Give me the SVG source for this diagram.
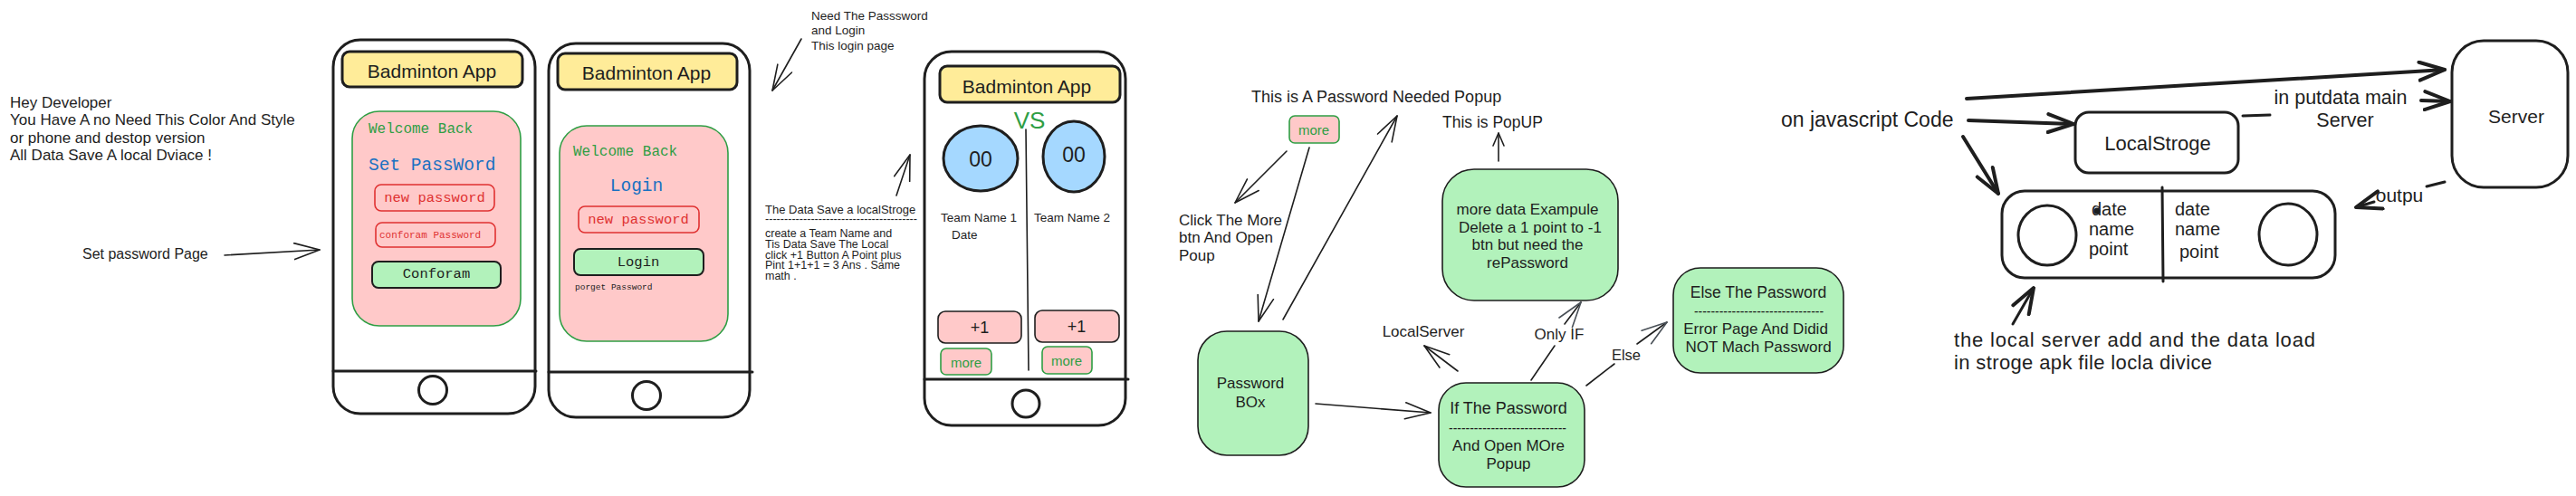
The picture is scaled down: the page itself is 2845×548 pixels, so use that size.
<svg xmlns="http://www.w3.org/2000/svg" width="2845" height="548" viewBox="0 0 2845 548">
<defs>
<style>
.ln{stroke:#1e1e1e;fill:none;stroke-linecap:round;stroke-linejoin:round}
.c{stroke-width:1.6}
.b{stroke-width:4}
.ph{fill:#ffffff;stroke:#1e1e1e;stroke-width:3}
.hdr{fill:#ffec99;stroke:#1e1e1e;stroke-width:3}
.panel{fill:#ffc9c9;stroke:#2f9e44;stroke-width:1.6}
.redbox{fill:#ffc9c9;stroke:#e03131;stroke-width:1.6}
.gbtn{fill:#b2f2bb;stroke:#1e1e1e;stroke-width:2}
.pbtn{fill:#ffc9c9;stroke:#1e1e1e;stroke-width:1.6}
.mbtn{fill:#ffc9c9;stroke:#2f9e44;stroke-width:1.6}
.gnode{fill:#b2f2bb;stroke:#1e1e1e;stroke-width:1.6}
.wnode{fill:#ffffff;stroke:#1e1e1e;stroke-width:3}
.t{font-family:"Liberation Sans",Arial,sans-serif;fill:#1e1e1e}
.m{font-family:"Liberation Mono","DejaVu Sans Mono",monospace}
.mid{text-anchor:middle;dominant-baseline:central}
.st{dominant-baseline:central}
.grn{fill:#2f9e44}
.blu{fill:#1971c2}
.red{fill:#e03131}
</style>
<marker id="ah" viewBox="0 0 30 20" refX="29" refY="10" markerWidth="30" markerHeight="20" markerUnits="userSpaceOnUse" orient="auto">
<path d="M1,1 L29,10 L1,19" fill="none" stroke="#1e1e1e" stroke-width="1.6" stroke-linecap="round" stroke-linejoin="round"/>
</marker>
<marker id="ahg" viewBox="0 0 30 20" refX="29" refY="10" markerWidth="30" markerHeight="20" markerUnits="userSpaceOnUse" orient="auto">
<path d="M1,1 L29,10 L1,19" fill="none" stroke="#495057" stroke-width="1.6" stroke-linecap="round" stroke-linejoin="round"/>
</marker>
<marker id="ahs" viewBox="0 0 16 14" refX="15" refY="7" markerWidth="16" markerHeight="14" markerUnits="userSpaceOnUse" orient="auto">
<path d="M1,1 L15,7 L1,13" fill="none" stroke="#1e1e1e" stroke-width="1.6" stroke-linecap="round" stroke-linejoin="round"/>
</marker>
<marker id="ahb" viewBox="0 0 32 24" refX="30" refY="12" markerWidth="32" markerHeight="24" markerUnits="userSpaceOnUse" orient="auto">
<path d="M2,2 L30,12 L2,22" fill="none" stroke="#1e1e1e" stroke-width="4" stroke-linecap="round" stroke-linejoin="round"/>
</marker>
</defs>

<rect width="2845" height="548" fill="#ffffff"/>

<!-- notes -->
<g id="note-developer" class="t" font-size="17">
<text x="11" y="113" class="st">Hey Developer</text>
<text x="11" y="132" class="st">You Have A no Need This Color And Style</text>
<text x="11" y="152" class="st">or phone and destop version</text>
<text x="11" y="171" class="st">All Data Save A local Dviace !</text>
</g>
<g id="label-setpassword"><text class="t st" x="91" y="280" font-size="16">Set password Page</text></g>
<g id="label-needpassword" class="t" font-size="13.5">
<text x="896" y="17" class="st">Need The Passsword</text>
<text x="896" y="33" class="st">and Login</text>
<text x="896" y="50" class="st">This login page</text>
</g>
<g id="label-datasave" class="t" font-size="12.5">
<text x="845" y="231" class="st" font-size="13">The Data Save a localStroge</text>
<text x="845" y="242" class="st" textLength="168" lengthAdjust="spacingAndGlyphs">----------------------------------------</text>
<text x="845" y="258" class="st">create a Team Name and</text>
<text x="845" y="270" class="st">Tis Data Save The Local</text>
<text x="845" y="282" class="st">click +1 Button A Point plus</text>
<text x="845" y="293" class="st">Pint 1+1+1 = 3 Ans . Same</text>
<text x="845" y="305" class="st">math .</text>
</g>

<!-- phone 1 -->
<g id="phone-setpassword">
<rect class="ph" x="368" y="44" width="223" height="413" rx="30"/>
<line class="ln" stroke-width="3" x1="368" y1="410" x2="592" y2="410"/>
<circle class="ln" stroke-width="3" cx="478" cy="431" r="15.5"/>
<rect class="hdr" x="378" y="57" width="199" height="39" rx="8"/>
<text class="t mid" x="477" y="78" font-size="21">Badminton App</text>
<rect class="panel" x="389" y="123" width="186" height="237" rx="30"/>
<text class="m st grn" x="407" y="143" font-size="16">Welcome Back</text>
<text class="m st blu" x="407" y="183" font-size="19.5">Set PassWord</text>
<rect class="redbox" x="414" y="204" width="132" height="29" rx="7"/>
<text class="m mid red" x="480" y="219" font-size="15.5">new password</text>
<rect class="redbox" x="415" y="246" width="132" height="27" rx="7"/>
<text class="m st red" x="419" y="260" font-size="11">conforam Password</text>
<rect class="gbtn" x="411" y="289" width="142" height="29" rx="7"/>
<text class="m mid" x="482" y="303" font-size="15.5" fill="#1e1e1e">Conforam</text>
</g>

<!-- phone 2 -->
<g id="phone-login">
<rect class="ph" x="606" y="48" width="222" height="413" rx="30"/>
<line class="ln" stroke-width="3" x1="606" y1="411" x2="831" y2="411"/>
<circle class="ln" stroke-width="3" cx="714" cy="437" r="15.5"/>
<rect class="hdr" x="616" y="59" width="198" height="40" rx="8"/>
<text class="t mid" x="714" y="80" font-size="21">Badminton App</text>
<rect class="panel" x="618" y="139" width="186" height="238" rx="30"/>
<text class="m st grn" x="633" y="168" font-size="16">Welcome Back</text>
<text class="m mid blu" x="703" y="206" font-size="19.5">Login</text>
<rect class="redbox" x="639" y="228" width="133" height="29" rx="7"/>
<text class="m mid red" x="705" y="243" font-size="15.5">new password</text>
<rect class="gbtn" x="634" y="275" width="143" height="29" rx="7"/>
<text class="m mid" x="705" y="290" font-size="15.5" fill="#1e1e1e">Login</text>
<text class="m st" x="635" y="317" font-size="9.5" fill="#1e1e1e">porget Password</text>
</g>

<!-- phone 3 -->
<g id="phone-score">
<rect class="ph" x="1021" y="57" width="222" height="413" rx="30"/>
<line class="ln" stroke-width="3" x1="1021" y1="419" x2="1246" y2="419"/>
<circle class="ln" stroke-width="3" cx="1133" cy="446" r="15"/>
<rect class="hdr" x="1038" y="73" width="199" height="40" rx="8"/>
<text class="t mid" x="1134" y="95" font-size="21">Badminton App</text>
<text class="t mid grn" x="1137" y="133" font-size="26">VS</text>
<line class="ln c" x1="1133" y1="143" x2="1136" y2="409"/>
<ellipse cx="1083" cy="175" rx="41" ry="36" fill="#a5d8ff" stroke="#1e1e1e" stroke-width="3"/>
<text class="t mid" x="1083" y="176" font-size="23">00</text>
<ellipse cx="1186" cy="173" rx="34" ry="39" fill="#a5d8ff" stroke="#1e1e1e" stroke-width="3"/>
<text class="t mid" x="1186" y="171" font-size="23">00</text>
<text class="t st" x="1039" y="240" font-size="13.5">Team Name 1</text>
<text class="t st" x="1051" y="259" font-size="13.5">Date</text>
<text class="t st" x="1142" y="240" font-size="13.5">Team Name 2</text>
<rect class="pbtn" x="1036" y="344" width="92" height="35" rx="8"/>
<text class="t mid" x="1082" y="362" font-size="18">+1</text>
<rect class="pbtn" x="1143" y="343" width="93" height="35" rx="8"/>
<text class="t mid" x="1189" y="361" font-size="18">+1</text>
<rect class="mbtn" x="1039" y="385" width="56" height="29" rx="6"/>
<text class="t mid grn" x="1067" y="400" font-size="15">more</text>
<rect class="mbtn" x="1151" y="383" width="55" height="30" rx="6"/>
<text class="t mid grn" x="1178" y="398" font-size="15">more</text>
</g>

<!-- popup flow -->
<g id="label-popup"><text class="t st" x="1382" y="107" font-size="18">This is A Password Needed Popup</text></g>
<g id="btn-more">
<rect class="mbtn" x="1424" y="128" width="55" height="30" rx="6"/>
<text class="t mid grn" x="1451" y="143" font-size="15">more</text>
</g>
<g id="label-popup2"><text class="t st" x="1593" y="135" font-size="17.5">This is PopUP</text></g>
<g id="label-click" class="t" font-size="17">
<text x="1302" y="243" class="st">Click The More</text>
<text x="1302" y="262" class="st">btn And Open</text>
<text x="1302" y="282" class="st">Poup</text>
</g>
<g id="node-passwordbox">
<rect class="gnode" x="1323" y="366" width="122" height="137" rx="32"/>
<text class="t mid" x="1381" y="423" font-size="17">Password</text>
<text class="t mid" x="1381" y="444" font-size="17">BOx</text>
</g>
<g id="node-if">
<rect class="gnode" x="1589" y="423" width="161" height="115" rx="30"/>
<text class="t mid" x="1666" y="451" font-size="18">If The Password</text>
<text class="t st" x="1600" y="472" font-size="16" textLength="130" lengthAdjust="spacingAndGlyphs">----------------------------</text>
<text class="t mid" x="1666" y="492" font-size="17">And Open MOre</text>
<text class="t mid" x="1666" y="512" font-size="17">Popup</text>
</g>
<g id="node-moredata">
<rect class="gnode" x="1593" y="187" width="194" height="145" rx="35"/>
<text class="t mid" x="1687" y="231" font-size="17">more data Exampule</text>
<text class="t mid" x="1690" y="251" font-size="17">Delete a 1 point to -1</text>
<text class="t mid" x="1687" y="270" font-size="17">btn but need the</text>
<text class="t mid" x="1687" y="290" font-size="17">rePassword</text>
</g>
<g id="node-else">
<rect class="gnode" x="1848" y="296" width="188" height="116" rx="30"/>
<text class="t mid" x="1942" y="323" font-size="17.5">Else The Password</text>
<text class="t st" x="1871" y="343" font-size="16" textLength="143" lengthAdjust="spacingAndGlyphs">-------------------------------</text>
<text class="t mid" x="1939" y="363" font-size="17">Error Page And Didid</text>
<text class="t mid" x="1942" y="383" font-size="17">NOT Mach Password</text>
</g>
<g id="label-localserver"><text class="t mid" x="1572" y="366" font-size="17">LocalServer</text></g>

<!-- storage section -->
<g id="label-js"><text class="t st" x="1967" y="132" font-size="23">on javascript Code</text></g>
<g id="node-localstroge">
<rect class="wnode" x="2292" y="124" width="180" height="67" rx="15"/>
<text class="t mid" x="2383" y="158" font-size="22">LocalStroge</text>
</g>
<g id="node-server">
<rect class="wnode" x="2708" y="45" width="128" height="162" rx="35"/>
<text class="t mid" x="2779" y="128" font-size="21">Server</text>
</g>
<g id="node-storage">
<rect class="wnode" x="2211" y="211" width="368" height="96" rx="25"/>
<line class="ln" stroke-width="3" x1="2388" y1="207" x2="2389" y2="311"/>
<ellipse cx="2261" cy="260" rx="32" ry="33" fill="none" stroke="#1e1e1e" stroke-width="3"/>
<ellipse cx="2527" cy="259" rx="32" ry="34" fill="none" stroke="#1e1e1e" stroke-width="3"/>
<circle cx="2316" cy="233" r="3.5" fill="#1e1e1e"/>
<text class="t st" x="2310" y="231" font-size="20">date</text>
<text class="t st" x="2307" y="253" font-size="20">name</text>
<text class="t st" x="2307" y="275" font-size="20">point</text>
<text class="t st" x="2402" y="231" font-size="20">date</text>
<text class="t st" x="2402" y="253" font-size="20">name</text>
<text class="t st" x="2407" y="278" font-size="20">point</text>
</g>
<g id="label-putdata" class="t" font-size="21.5">
<text x="2585" y="108" class="mid">in putdata main</text>
<text x="2590" y="133" class="mid">Server</text>
</g>
<g id="label-outpu"><text class="t mid" x="2650" y="215" font-size="21">outpu</text></g>
<g id="label-localload" class="t" font-size="22">
<text x="2158" y="375" class="st" textLength="399" lengthAdjust="spacing">the local server add and the data load</text>
<text x="2158" y="400" class="st" textLength="285" lengthAdjust="spacing">in stroge apk file locla divice</text>
</g>
<g id="label-else"><text class="t mid" x="1796" y="392" font-size="16.5">Else</text></g>
<g id="label-onlyif"><text class="t mid" x="1722" y="369" font-size="17">Only IF</text></g>

<!-- connectors -->
<g id="connectors">
<path class="ln c" d="M248,282 L353,276" marker-end="url(#ah)"/>
<path class="ln c" d="M885,43 L853,100" marker-end="url(#ah)"/>
<path class="ln c" d="M990,216 L1005,171" marker-end="url(#ah)"/>
<path class="ln c" d="M1421,167 L1364,224" marker-end="url(#ah)"/>
<path class="ln c" d="M1446,163 L1390,355" marker-end="url(#ah)"/>
<path class="ln c" d="M1417,353 L1543,128" marker-end="url(#ah)"/>
<path class="ln c" d="M1453,446 L1580,456" marker-end="url(#ah)"/>
<path class="ln c" d="M1655,178 L1655,147" marker-end="url(#ahs)"/>
<path class="ln c" d="M1610,410 L1573,382" marker-end="url(#ah)"/>
<path class="ln c" stroke="#495057" d="M1691,420 L1717,382"/>
<path class="ln c" stroke="#495057" d="M1728,358 L1746,334" marker-end="url(#ahg)"/>
<path class="ln c" stroke="#495057" d="M1752,426 L1783,402"/>
<path class="ln c" stroke="#495057" d="M1808,380 L1841,356" marker-end="url(#ahg)"/>
<path class="ln b" d="M2172,109 L2700,77" marker-end="url(#ahb)"/>
<path class="ln b" d="M2174,133 L2290,137" marker-end="url(#ahb)"/>
<path class="ln b" d="M2168,151 L2207,214" marker-end="url(#ahb)"/>
<path class="ln" stroke-width="3" d="M2477,128 L2507,127"/>
<path class="ln b" d="M2674,111 L2706,112" marker-end="url(#ahb)"/>
<path class="ln" stroke-width="3" d="M2700,201 L2680,206"/>
<path class="ln" stroke-width="3" d="M2622,223 L2602,229" marker-end="url(#ahb)"/>
<path class="ln" stroke-width="3" d="M2223,358 L2246,318" marker-end="url(#ahb)"/>
</g>
</svg>
